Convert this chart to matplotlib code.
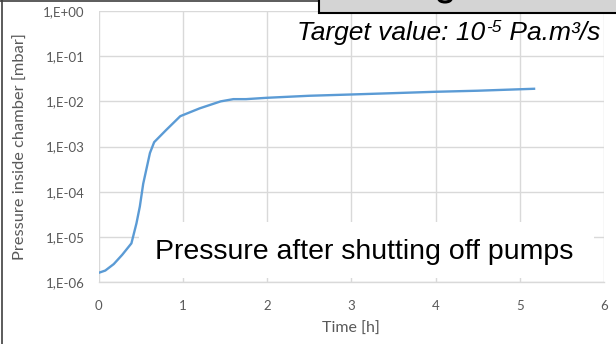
import matplotlib
matplotlib.use("Agg")
import matplotlib.pyplot as plt
from matplotlib.patches import Rectangle, Arc
from matplotlib.transforms import offset_copy

# pressure curve
time_h = [0.0, 0.08, 0.18, 0.28, 0.39, 0.45, 0.49, 0.53, 0.58, 0.61, 0.66, 0.8, 0.97,
          1.2, 1.45, 1.6, 1.75, 2.0, 2.5, 3.0, 3.5, 4.0, 4.5, 5.17]
pressure = [1.6e-6, 1.8e-6, 2.5e-6, 4.0e-6, 7.2e-6, 2.0e-5, 4.7e-5, 1.5e-4, 4.0e-4, 7.2e-4,
            1.25e-3, 2.3e-3, 4.7e-3, 7.0e-3, 1.0e-2, 1.12e-2, 1.12e-2, 1.2e-2, 1.33e-2,
            1.42e-2, 1.52e-2, 1.63e-2, 1.72e-2, 1.9e-2]
ytick_vals = [1e-6, 1e-5, 1e-4, 1e-3, 1e-2, 1e-1, 1e0]
ytick_labels = ["1,E-06", "1,E-05", "1,E-04", "1,E-03", "1,E-02", "1,E-01", "1,E+00"]
xticks = [0, 1, 2, 3, 4, 5, 6]

plt.rcParams['font.family'] = ['Lato', 'DejaVu Sans']
grid_c = '#d9d9d9'
txt_c = '#595959'

fig = plt.figure(figsize=(6.16, 3.44), dpi=100)
ax = fig.add_axes([0.160, 0.180, 0.8205, 0.788])
ax.set_yscale('log')
ax.set_xlim(0, 6)
ax.set_ylim(1e-6, 1e0)
ax.set_xticks(xticks)
ax.set_xticklabels([str(v) for v in xticks])
ax.set_yticks(ytick_vals)
ax.set_yticklabels(ytick_labels)
ax.minorticks_off()
ax.grid(True, color=grid_c, linewidth=1.0)
ax.set_axisbelow(True)
for s in ['top', 'right', 'left']:
    ax.spines[s].set_visible(False)
ax.spines['bottom'].set_color(grid_c)
ax.spines['bottom'].set_linewidth(1.0)
ax.tick_params(length=0, colors=txt_c, labelsize=9.5)
ax.tick_params(axis='x', pad=13)
ax.tick_params(axis='y', pad=10)

ax.plot(time_h, pressure, color='#5b9bd5', linewidth=1.7, zorder=3)

ax.set_xlabel('Time [h]', fontsize=11.5, color=txt_c, labelpad=7)
ax.set_ylabel('Pressure inside chamber [mbar]', fontsize=11.8, color=txt_c, labelpad=11)

# white annotation box over the lower gridlines (below the curve)
ax.add_patch(Rectangle((139 / 616, 1 - 278 / 344), 455 / 616, 56 / 344,
                       transform=fig.transFigure, facecolor='white',
                       edgecolor='none', zorder=2, clip_on=False))
fig.text(364 / 616, 1 - 252 / 344, 'Pressure after shutting off pumps',
         family='Liberation Sans', fontsize=20.5, color='black',
         ha='center', va='center', zorder=5)

# target value text, built in pieces so the exponent is a small raised "-5"
tkw = dict(family='Liberation Sans', style='italic', color='black', va='baseline', zorder=5)
x0, y0 = 297 / 616, 1 - 40 / 344
t1 = fig.text(x0, y0, 'Target value: 10', fontsize=19, **tkw)
fig.canvas.draw()
w1 = t1.get_window_extent().width
t2 = fig.text(x0, y0, '-5', fontsize=12.5,
              transform=offset_copy(fig.transFigure, fig=fig, x=w1 + 1, y=8, units='dots'), **tkw)
fig.canvas.draw()
w2 = t2.get_window_extent().width
fig.text(x0, y0, ' Pa.m³/s', fontsize=19,
         transform=offset_copy(fig.transFigure, fig=fig, x=w1 + w2 + 1, y=0, units='dots'), **tkw)

# slide frame and the grey title box cut off at the top
fig.add_artist(plt.Line2D([1.5 / 616, 1.5 / 616], [0, 1], color='#404040', linewidth=1.2))
fig.add_artist(plt.Line2D([0, 320 / 616], [1 - 1 / 344, 1 - 1 / 344], color='#404040', linewidth=1.2))
fig.add_artist(Rectangle((319 / 616, 1 - 13 / 344), 320 / 616, 20 / 344,
                         transform=fig.transFigure, facecolor='#d4d4d4',
                         edgecolor='black', linewidth=1.5, zorder=6))
fig.add_artist(Arc((445 / 616, 1 + 1 / 344), 12 / 616, 6 / 344, theta1=180, theta2=360,
                   transform=fig.transFigure, color='black', linewidth=2.2, zorder=7))

fig.savefig('out.png', dpi=100)
